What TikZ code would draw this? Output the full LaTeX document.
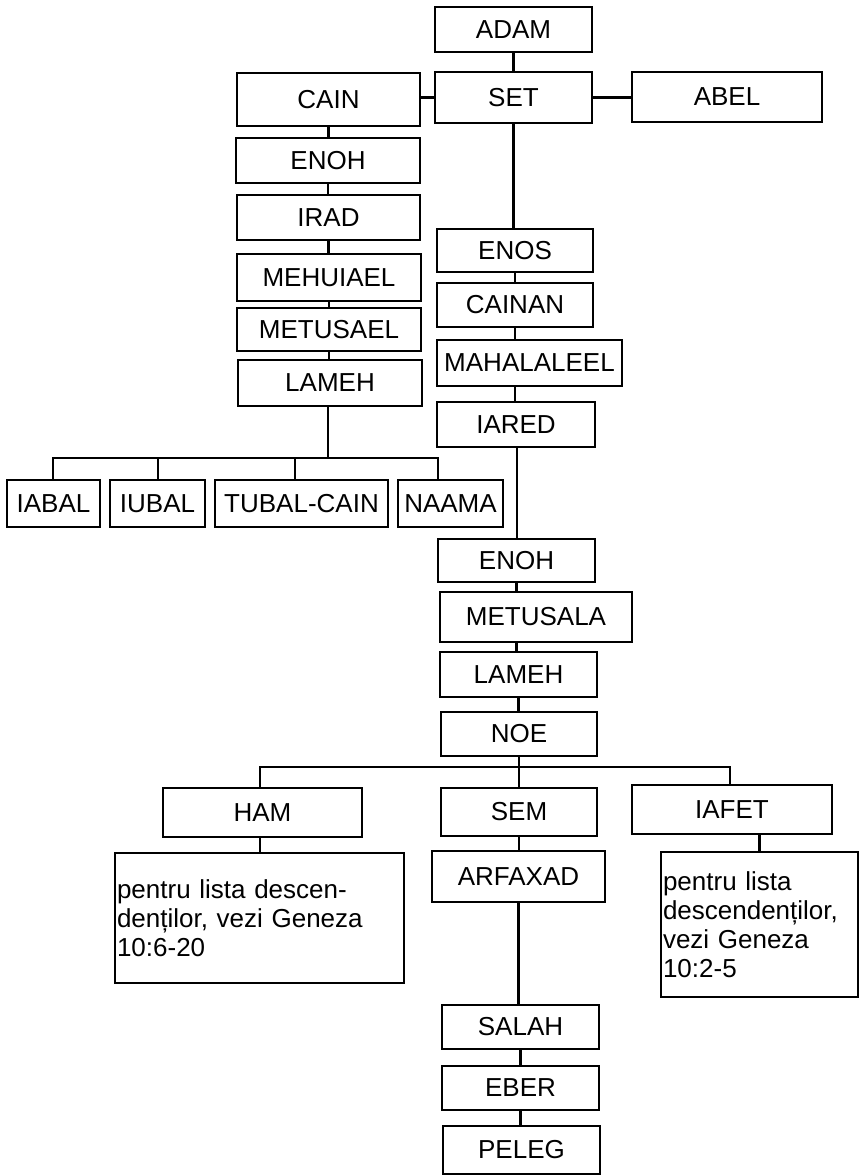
\documentclass[tikz,border=0pt]{standalone}
\usepackage{fontspec}
\setmainfont{Liberation Sans}
\begin{document}
\begin{tikzpicture}[x=1pt,y=-1pt,
  box/.style={draw, line width=2.6pt, inner sep=0pt, font=\fontsize{26}{29}\selectfont},
  note/.style={draw, line width=2.6pt, inner sep=2pt, align=left, font=\fontsize{26}{29}\selectfont},
  link/.style={line width=2.4pt}]
\useasboundingbox (0,0) rectangle (859,1176);
% Adam line
\node[box, minimum width=157, minimum height=45] (adam) at (513.5,29.5) {ADAM};
\node[box, minimum width=157, minimum height=51] (set) at (513.5,97.5) {SET};
\node[box, minimum width=183, minimum height=53] (cain) at (328.5,99.5) {CAIN};
\node[box, minimum width=190, minimum height=50] (abel) at (727,97) {ABEL};
% Cain line
\node[box, minimum width=184, minimum height=45] (enohA) at (328,160.5) {ENOH};
\node[box, minimum width=183, minimum height=45] (irad) at (328.5,217.5) {IRAD};
\node[box, minimum width=184, minimum height=47] (mehuiael) at (329,277.5) {MEHUIAEL};
\node[box, minimum width=184, minimum height=43] (metusael) at (329,329.5) {METUSAEL};
\node[box, minimum width=184, minimum height=46] (lamehA) at (330,383) {LAMEH};
\node[box, minimum width=93, minimum height=47] (iabal) at (53.5,503.5) {IABAL};
\node[box, minimum width=95, minimum height=47] (iubal) at (157.5,503.5) {IUBAL};
\node[box, minimum width=173, minimum height=47] (tubal) at (301.5,503.5) {TUBAL-CAIN};
\node[box, minimum width=105, minimum height=47] (naama) at (450.5,503.5) {NAAMA};
% Set line
\node[box, minimum width=156, minimum height=43] (enos) at (515,250.5) {ENOS};
\node[box, minimum width=156, minimum height=44] (cainan) at (515,305) {CAINAN};
\node[box, minimum width=185, minimum height=46] (mahalaleel) at (529.5,363) {MAHALALEEL};
\node[box, minimum width=158, minimum height=45] (iared) at (516,424.5) {IARED};
\node[box, minimum width=157, minimum height=43] (enohB) at (516.5,560.5) {ENOH};
\node[box, minimum width=192, minimum height=50] (metusala) at (536,617) {METUSALA};
\node[box, minimum width=157, minimum height=45] (lamehB) at (518.5,674.5) {LAMEH};
\node[box, minimum width=156, minimum height=44] (noe) at (519,734) {NOE};
% Noah's sons
\node[box, minimum width=199, minimum height=49] (ham) at (262.5,812.5) {HAM};
\node[box, minimum width=156, minimum height=48] (sem) at (519,812) {SEM};
\node[box, minimum width=200, minimum height=49] (iafet) at (732,809.5) {IAFET};
\node[note, text width=285, minimum height=130] (hamtext) at (259.5,918)
  {pentru lista descen-\\denților, vezi Geneza\\10:6-20};
\node[note, text width=193, minimum height=145] (iafettext) at (759.5,924.5)
  {pentru lista\\descendenților,\\vezi Geneza\\10:2-5};
\node[box, minimum width=173, minimum height=51] (arfaxad) at (518.5,876.5) {ARFAXAD};
\node[box, minimum width=157, minimum height=44] (salah) at (520.5,1027) {SALAH};
\node[box, minimum width=157, minimum height=44] (eber) at (520.5,1088) {EBER};
\node[box, minimum width=157, minimum height=48] (peleg) at (521.5,1150) {PELEG};
% branch coordinates
\coordinate (lb) at (328,458);
\coordinate (lb1) at (53,458);
\coordinate (lb2) at (158,458);
\coordinate (lb3) at (295,458);
\coordinate (lb4) at (438,458);
\coordinate (nb) at (519,767);
\coordinate (nb1) at (260,767);
\coordinate (nb3) at (730,767);
% connectors
\draw[link] (adam.south) -- (adam.south |- set.north);
\draw[link] (set.west) -- (set.west -| cain.east);
\draw[link] (set.east) -- (set.east -| abel.west);
\draw[link] (set.south) -- (set.south |- enos.north);
\draw[link] (enos.south) -- (enos.south |- cainan.north);
\draw[link] (cainan.south) -- (cainan.south |- mahalaleel.north);
\draw[link] (iared.north -| enos.south) -- (enos.south |- mahalaleel.south);
\draw[link] (517,0 |- iared.south) -- (517,0 |- enohB.north);
\draw[link] (enohB.south) -- (enohB.south |- metusala.north);
\draw[link] (enohB.south |- metusala.south) -- (enohB.south |- lamehB.north);
\draw[link] (lamehB.south) -- (lamehB.south |- noe.north);
\draw[link] (cain.south) -- (cain.south |- enohA.north);
\draw[link] (enohA.south) -- (enohA.south |- irad.north);
\draw[link] (irad.south) -- (irad.south |- mehuiael.north);
\draw[link] (mehuiael.south) -- (mehuiael.south |- metusael.north);
\draw[link] (metusael.south) -- (metusael.south |- lamehA.north);
\draw[link] (lamehA.south -| lb) -- (lb);
\draw[link] (lb1 |- iabal.north) -- (lb1) -- (lb4) -- (lb4 |- naama.north);
\draw[link] (lb2) -- (lb2 |- iubal.north);
\draw[link] (lb3) -- (lb3 |- tubal.north);
\draw[link] (noe.south) -- (nb);
\draw[link] (nb1 |- ham.north) -- (nb1) -- (nb3) -- (nb3 |- iafet.north);
\draw[link] (nb) -- (nb |- sem.north);
\draw[link] (nb1 |- ham.south) -- (nb1 |- hamtext.north);
\draw[link] (iafettext.north |- iafet.south) -- (iafettext.north);
\draw[link] (sem.south) -- (sem.south |- arfaxad.north);
\draw[link] (arfaxad.south) -- (arfaxad.south |- salah.north);
\draw[link] (salah.south) -- (salah.south |- eber.north);
\draw[link] (eber.south) -- (eber.south |- peleg.north);
\end{tikzpicture}
\end{document}
